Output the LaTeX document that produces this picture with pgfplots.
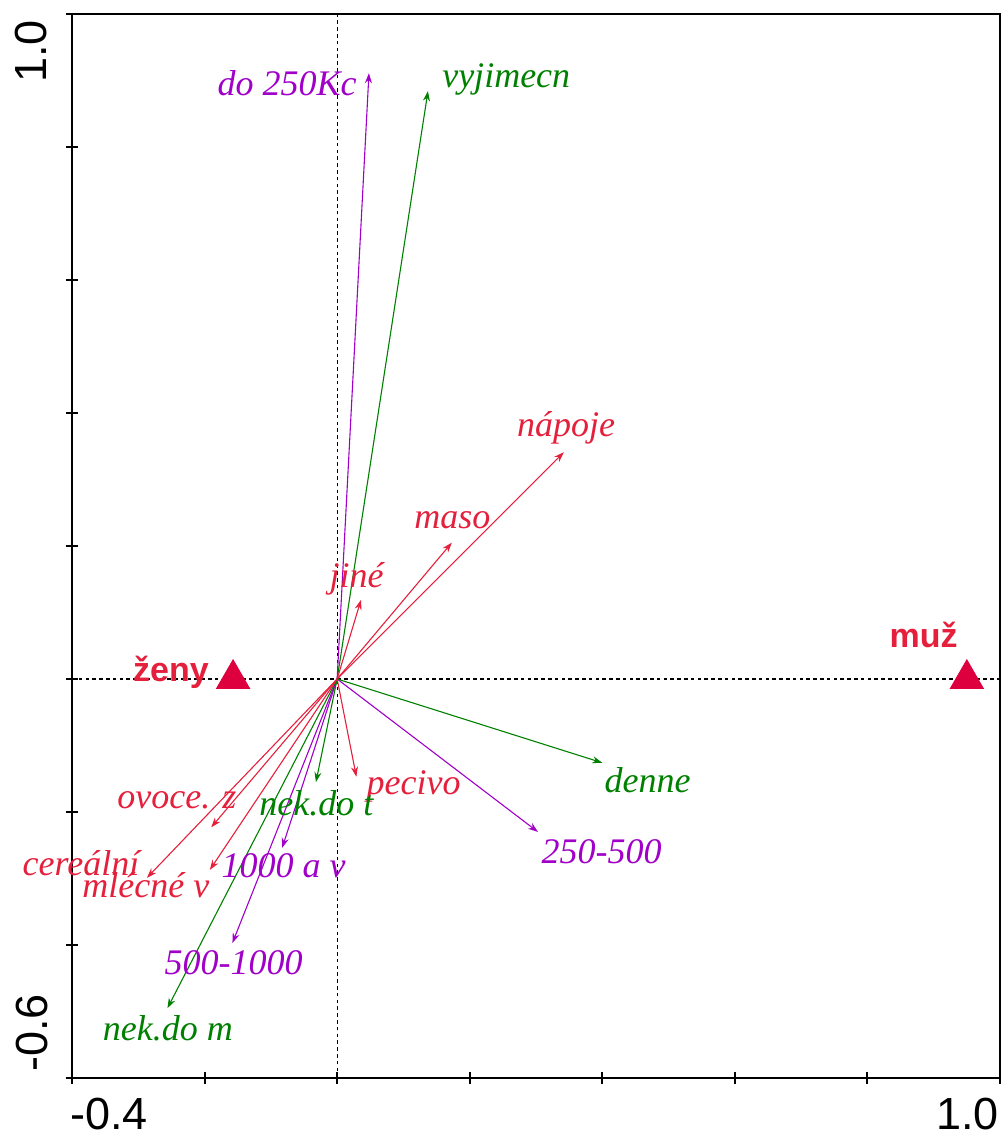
\documentclass[border=0pt]{standalone}
\usepackage{pgfplots}
\pgfplotsset{compat=1.18}
\usepackage{fontspec}
\setmainfont{Liberation Serif}
\newfontfamily\sansf{Liberation Sans}
\usetikzlibrary{arrows.meta}
\definecolor{cred}{RGB}{228,32,60}
\definecolor{cmark}{RGB}{222,0,62}
\definecolor{cpur}{RGB}{160,0,200}
\definecolor{cgrn}{RGB}{0,128,0}
\tikzset{
  lab/.style={inner sep=0pt, anchor=base west, font=\itshape\fontsize{18}{20}\selectfont},
  arr/.style={line width=0.55pt, -{Stealth[length=5pt,width=3.5pt]}},
  tl/.style={inner sep=0pt, font=\sansf\fontsize{22.5}{24}\selectfont},
}
\begin{document}
\begin{tikzpicture}
\begin{axis}[
  scale only axis, width=464pt, height=532pt,
  xmin=-0.4, xmax=1.0, ymin=-0.6, ymax=1.0,
  xtick={-0.4,-0.2,0,0.2,0.4,0.6,0.8,1.0},
  ytick={-0.6,-0.4,-0.2,0,0.2,0.4,0.6,0.8,1.0},
  xticklabels={}, yticklabels={},
  xtick pos=bottom, ytick pos=left,
  tick align=center, major tick length=6pt,
  every tick/.style={black, line width=1pt},
  axis line style={line width=1.3pt},
  clip=false,
]
\coordinate (SW) at (rel axis cs:0,0);
\coordinate (NE) at (rel axis cs:1,1);
% reference lines
\addplot[black, line width=0.6pt, dash pattern=on 1.8pt off 1.6pt] coordinates {(0,-0.6) (0,1.0)};
\addplot[black, line width=0.6pt, dash pattern=on 1.8pt off 1.6pt] coordinates {(-0.4,0) (1.0,0)};
% purple
\addplot[cpur, arr] coordinates {(0,0) (0.048,0.911)};
\addplot[cpur, arr] coordinates {(0,0) (0.303,-0.230)};
\addplot[cpur, arr] coordinates {(0,0) (-0.083,-0.254)};
\addplot[cpur, arr] coordinates {(0,0) (-0.158,-0.397)};
% green
\addplot[cgrn, arr] coordinates {(0,0) (0.137,0.884)};
\addplot[cgrn, arr] coordinates {(0,0) (0.400,-0.126)};
\addplot[cgrn, arr] coordinates {(0,0) (-0.032,-0.155)};
\addplot[cgrn, arr] coordinates {(0,0) (-0.256,-0.495)};
% red
\addplot[cred, arr] coordinates {(0,0) (0.342,0.341)};
\addplot[cred, arr] coordinates {(0,0) (0.173,0.205)};
\addplot[cred, arr] coordinates {(0,0) (0.036,0.119)};
\addplot[cred, arr] coordinates {(0,0) (0.029,-0.147)};
\addplot[cred, arr] coordinates {(0,0) (-0.190,-0.223)};
\addplot[cred, arr] coordinates {(0,0) (-0.192,-0.287)};
\addplot[cred, arr] coordinates {(0,0) (-0.287,-0.299)};
% samples
\addplot[only marks, mark=triangle*, mark size=9.6pt, mark options={fill=cmark, draw=cmark}] coordinates {(-0.157,0) (0.950,0)};
% labels
\node[lab, text=cpur] at (axis cs:-0.181,0.878) {do 250Kc};
\node[lab, text=cgrn] at (axis cs:0.158,0.890) {vyjimecn};
\node[lab, text=cred] at (axis cs:0.271,0.364) {nápoje};
\node[lab, text=cred] at (axis cs:0.116,0.226) {maso};
\node[lab, text=cred] at (axis cs:-0.012,0.138) {jiné};
\node[lab, text=cgrn] at (axis cs:0.403,-0.171) {denne};
\node[lab, text=cpur] at (axis cs:0.308,-0.277) {250-500};
\node[lab, text=cred] at (axis cs:0.044,-0.174) {pecivo};
\node[lab, text=cgrn] at (axis cs:-0.118,-0.205) {nek.do t};
\node[lab, text=cpur] at (axis cs:-0.175,-0.299) {1000 a v};
\node[lab, text=cpur] at (axis cs:-0.261,-0.445) {500-1000};
\node[lab, text=cgrn] at (axis cs:-0.354,-0.544) {nek.do m};
\node[lab, text=cred] at (axis cs:-0.332,-0.194) {ovoce. z};
\node[lab, text=cred] at (axis cs:-0.385,-0.328) {mlécné v};
\node[lab, text=cred] at (axis cs:-0.475,-0.295) {cereální};
\node[inner sep=0pt, anchor=base east, text=cred, font=\sansf\bfseries\fontsize{17}{19}\selectfont] at (axis cs:-0.193,-0.004) {ženy};
\node[inner sep=0pt, anchor=base west, text=cred, font=\sansf\bfseries\fontsize{17}{19}\selectfont] at (axis cs:0.833,0.047) {muž};
% tick labels
\node[tl, anchor=base west] at ([shift={(-1pt,-25.5pt)}]SW) {-0.4};
\node[tl, anchor=base east] at ([shift={(-0.5pt,-25.5pt)}]SW -| NE) {1.0};
\node[tl, anchor=base west, rotate=90] at ([shift={(-12pt,3pt)}]SW) {-0.6};
\node[tl, anchor=base east, rotate=90] at ([shift={(-12.5pt,-3pt)}]SW |- NE) {1.0};
\end{axis}
\pgfresetboundingbox
\path ([shift={(-36pt,-29pt)}]SW) rectangle ([shift={(1.5pt,7pt)}]NE);
\end{tikzpicture}
\end{document}
